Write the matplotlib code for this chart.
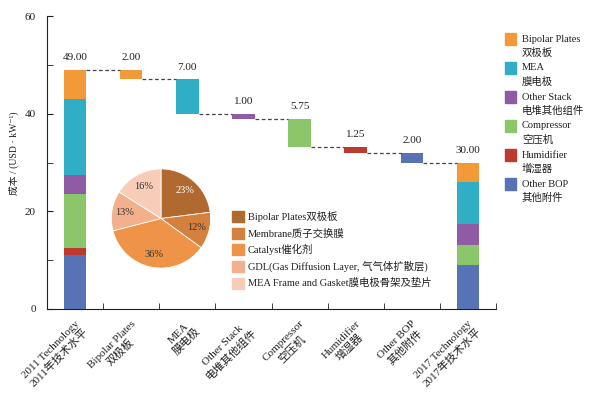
import matplotlib

matplotlib.use("Agg")
import matplotlib.pyplot as plt
from matplotlib.patches import Rectangle
import numpy as np

plt.rcParams["font.family"] = ["Liberation Serif", "Noto Sans CJK SC", "DejaVu Sans"]
plt.rcParams["font.size"] = 7.5
TXT = "#231f20"

# ---- data ----
categories = [
    "2011 Technology\n2011年技术水平",
    "Bipolar Plates\n双极板",
    "MEA\n膜电极",
    "Other Stack\n电堆其他组件",
    "Compressor\n空压机",
    "Humidifier\n增湿器",
    "Other BOP\n其他附件",
    "2017 Technology\n2017年技术水平",
]
components = ["Other BOP\n其他附件", "Humidifier\n增湿器", "Compressor\n空压机",
              "Other Stack\n电堆其他组件", "MEA\n膜电极", "Bipolar Plates\n双极板"]
comp_colors = ["#5872b6", "#be3a2e", "#8cc66a", "#8e5ba4", "#30aec6", "#f39a38"]
stack_2011 = [11.0, 1.5, 11.0, 4.0, 15.5, 6.0]   # bottom -> top, sums to 49
stack_2017 = [9.0, 0.0, 4.1, 4.4, 8.5, 4.0]      # bottom -> top, sums to 30
reductions = [2.00, 7.00, 1.00, 5.75, 1.25, 2.00]
red_colors = ["#f39a38", "#30aec6", "#8e5ba4", "#8cc66a", "#be3a2e", "#5872b6"]
total_2011 = 49.00
total_2017 = 30.00

pie_labels = ["Bipolar Plates双极板", "Membrane质子交换膜", "Catalyst催化剂",
              "GDL(Gas Diffusion Layer, 气气体扩散层)", "MEA Frame and Gasket膜电极骨架及垫片"]
pie_vals = [23, 12, 36, 13, 16]
pie_colors = ["#b06a30", "#d5813e", "#ee9347", "#f2b08c", "#f8cdb8"]

# ---- plot ----
fig = plt.figure(figsize=(5.91, 3.95), dpi=100)
ax = fig.add_axes([47 / 591, 1 - 309 / 395, 449 / 591, 293 / 395])
w = 0.4
x = np.arange(len(categories))

# start / end stacked bars
for xi, stack in ((x[0], stack_2011), (x[-1], stack_2017)):
    bottom = 0
    for v, c in zip(stack, comp_colors):
        ax.bar(xi, v, w, bottom=bottom, color=c, lw=0)
        bottom += v

# floating reduction bars + connectors
level = total_2011
ax.text(x[0], total_2011 + 1.6, f"{total_2011:.2f}", ha="center", va="bottom", color=TXT, fontsize=8)
for i, (d, c) in enumerate(zip(reductions, red_colors)):
    xi = x[i + 1]
    ax.plot([x[i] + w / 2, xi - w / 2], [level, level], ls=(0, (3, 2)), color="#444", lw=0.9)
    ax.bar(xi, d, w, bottom=level - d, color=c, lw=0)
    ax.text(xi, level + 1.6, f"{d:.2f}", ha="center", va="bottom", color=TXT, fontsize=8)
    level -= d
ax.plot([x[-2] + w / 2, x[-1] - w / 2], [level, level], ls=(0, (3, 2)), color="#444", lw=0.9)
ax.text(x[-1], total_2017 + 1.6, f"{total_2017:.2f}", ha="center", va="bottom", color=TXT, fontsize=8)

ax.set_xlim(-0.5, len(categories) - 0.5)
ax.set_ylim(0, 60)
ax.spines[["top", "right"]].set_visible(False)
ax.spines[["left", "bottom"]].set_color(TXT)
ax.set_yticks([0, 20, 40, 60])
ax.set_yticks([10, 30, 50], minor=True)
ax.tick_params(axis="y", which="both", direction="in", length=4, colors=TXT, labelsize=8, pad=8)
ax.set_xticks(x)
ax.set_xticks(x + 0.5, minor=True)
ax.tick_params(axis="x", which="major", length=0, pad=7)
ax.tick_params(axis="x", which="minor", direction="in", length=4, color=TXT)
ax.set_xticklabels(categories, rotation=45, ha="right", va="top",
                   rotation_mode="anchor", multialignment="center", color=TXT, fontsize=8)
ax.set_ylabel("成本 / (USD · kW⁻¹)", color=TXT, fontsize=7)
ax.yaxis.set_label_coords(-0.062, 0.53)

# main legend
for k, (lab, c) in enumerate(zip(components[::-1], comp_colors[::-1])):
    yc = 39 + 29 * k
    fig.add_artist(Rectangle((505 / 591, 1 - (yc + 6) / 395), 11 / 591, 12 / 395,
                             color=c, transform=fig.transFigure))
    l1, l2 = lab.split("\n")
    fig.text(522 / 591, 1 - yc / 395, l1, va="center", ha="left", color=TXT, fontsize=7.5)
    fig.text(522 / 591, 1 - (yc + 14) / 395, l2, va="center", ha="left", color=TXT, fontsize=7.5)

# inset pie
pax = fig.add_axes([99 / 591, 1 - 280.5 / 395, 124 / 591, 124 / 395])
wedges, _, autotexts = pax.pie(pie_vals, colors=pie_colors, startangle=90, counterclock=False,
                               autopct="%d%%", pctdistance=0.74,
                               wedgeprops=dict(lw=0.6, edgecolor="white"),
                               textprops=dict(color="#333", fontsize=7.5))
autotexts[0].set_color("white")
pax.set_aspect("equal")

for k, (lab, c) in enumerate(zip(pie_labels, pie_colors)):
    yc = 216.7 + 16.6 * k
    fig.add_artist(Rectangle((232 / 591, 1 - (yc + 5.5) / 395), 12 / 591, 11 / 395,
                             color=c, transform=fig.transFigure))
    fig.text(248 / 591, 1 - yc / 395, lab, va="center", ha="left", color=TXT, fontsize=7.5)

fig.savefig("out.png", dpi=100)
